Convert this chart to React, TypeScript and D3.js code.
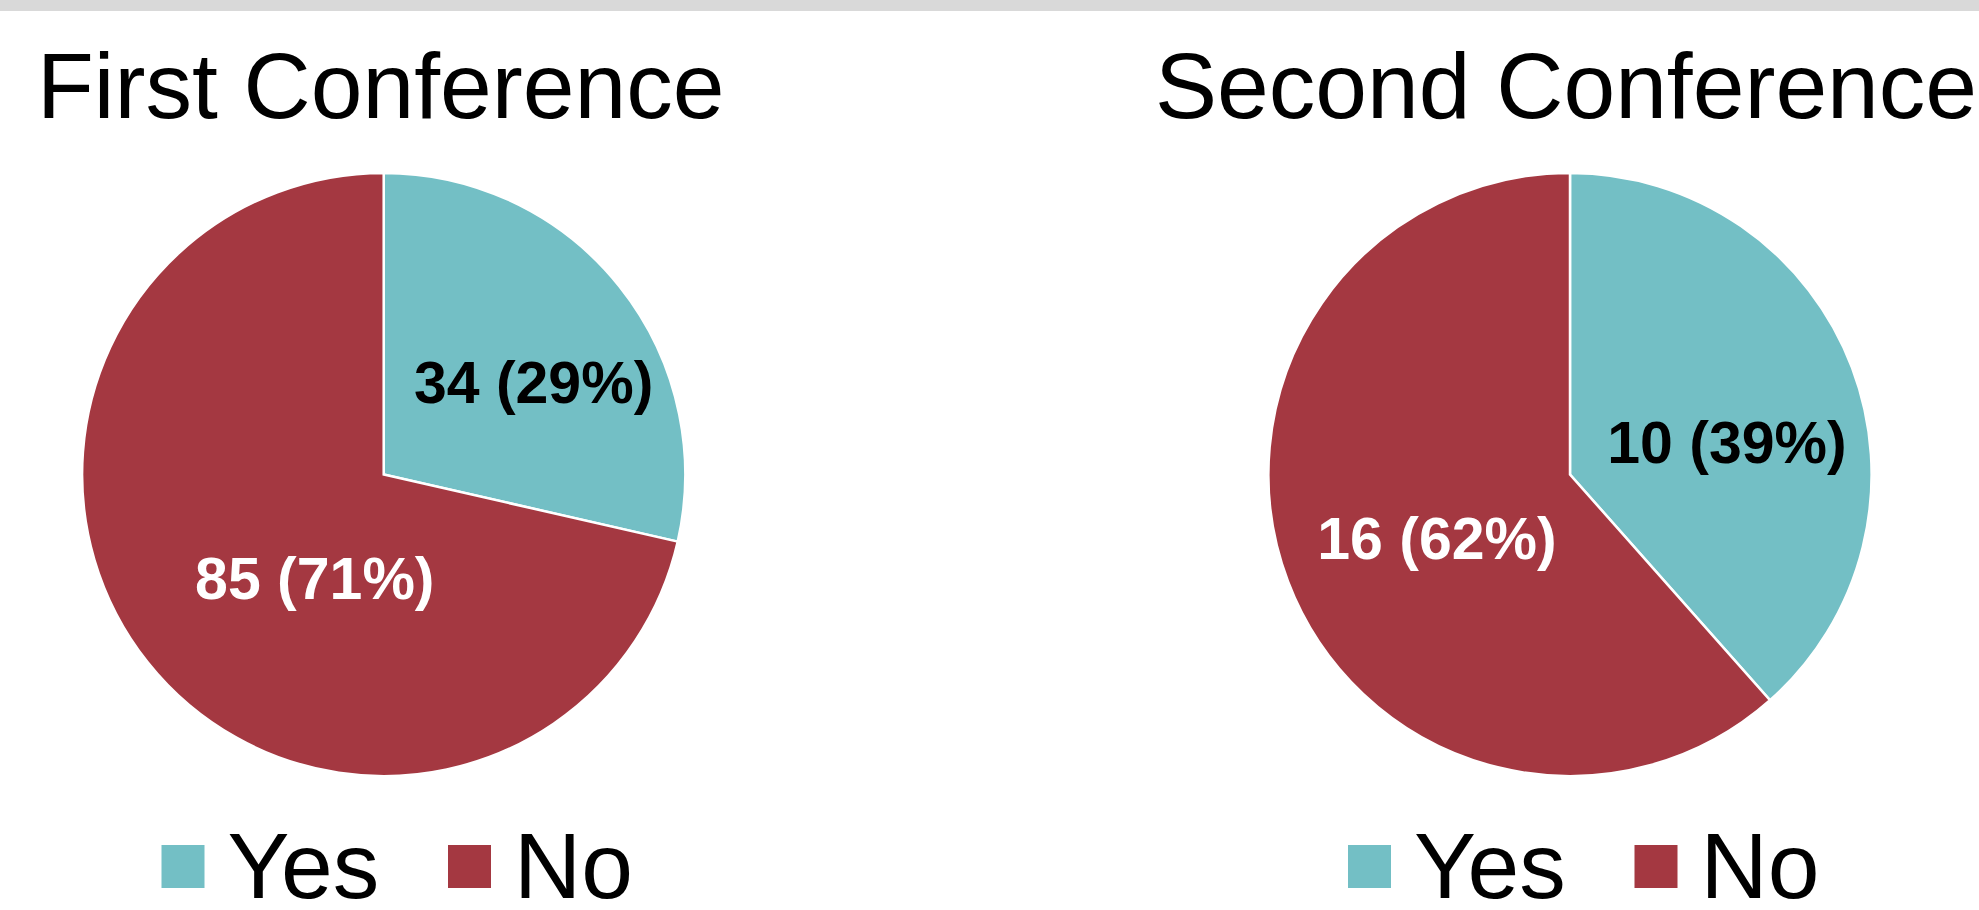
import React from "react";
import * as d3 from "d3";

const categories = ["Yes", "No"];
const chartTitles = ["First Conference", "Second Conference"];
const firstValues = [34, 85];
const secondValues = [10, 16];
const firstLabels = ["34 (29%)", "85 (71%)"];
const secondLabels = ["10 (39%)", "16 (62%)"];

const COLORS = ["#73BFC5", "#A43841"];
const LABEL_FILL = ["#000000", "#FFFFFF"];
const W = 1979;
const H = 910;
const R = 301.6;
const FONT = "'Liberation Sans', Arial, sans-serif";

// label nudges (Excel best-fit placement) relative to centroid
const nudges = [
  [[32, 1], [49, 9]],
  [[16, 21], [8, 10]],
];

const panels = [
  { title: chartTitles[0], values: firstValues, labels: firstLabels, cx: 383.7, titleX: 37, legendX: 161.5 },
  { title: chartTitles[1], values: secondValues, labels: secondLabels, cx: 1570, titleX: 1155, legendX: 1348 },
];

export default function App() {
  const pie = d3.pie<number>().sort(null).value((d) => d).startAngle(0).endAngle(2 * Math.PI);
  const arc = d3.arc<d3.PieArcDatum<number>>().innerRadius(0).outerRadius(R);
  const cy = 474.5;
  const labelSize = 59;
  return (
    <svg
      width={W}
      height={H}
      style={{ position: "absolute", left: 0, top: 0, background: "#fff" }}
      fontFamily={FONT}
    >
      <rect x={0} y={0} width={W} height={11} fill="#D9D9D9" />
      {panels.map((p, pi) => {
        const arcs = pie(p.values);
        return (
          <g key={pi}>
            <text x={p.titleX} y={118} fontSize={93} fill="#000">
              {p.title}
            </text>
            <g transform={`translate(${p.cx},${cy})`}>
              {arcs.map((a, i) => (
                <path key={i} d={arc(a) || ""} fill={COLORS[i]} stroke="#fff" strokeWidth={2.5} strokeLinejoin="miter" />
              ))}
              {arcs.map((a, i) => {
                const [x, y] = arc.centroid(a);
                const [dx, dy] = nudges[pi][i];
                return (
                  <text
                    key={"l" + i}
                    x={x + dx}
                    y={y + dy + labelSize * 0.716 / 2}
                    textAnchor="middle"
                    fontSize={labelSize}
                    fontWeight="bold"
                    fill={LABEL_FILL[i]}
                  >
                    {p.labels[i]}
                  </text>
                );
              })}
            </g>
            <g transform={`translate(${p.legendX},0)`}>
              {categories.map((c, i) => (
                <g key={c} transform={`translate(${i * 286.5},0)`}>
                  <rect x={0} y={845} width={43} height={43} fill={COLORS[i]} />
                  <text x={66} y={898} fontSize={93} fill="#000">
                    {c}
                  </text>
                </g>
              ))}
            </g>
          </g>
        );
      })}
    </svg>
  );
}
